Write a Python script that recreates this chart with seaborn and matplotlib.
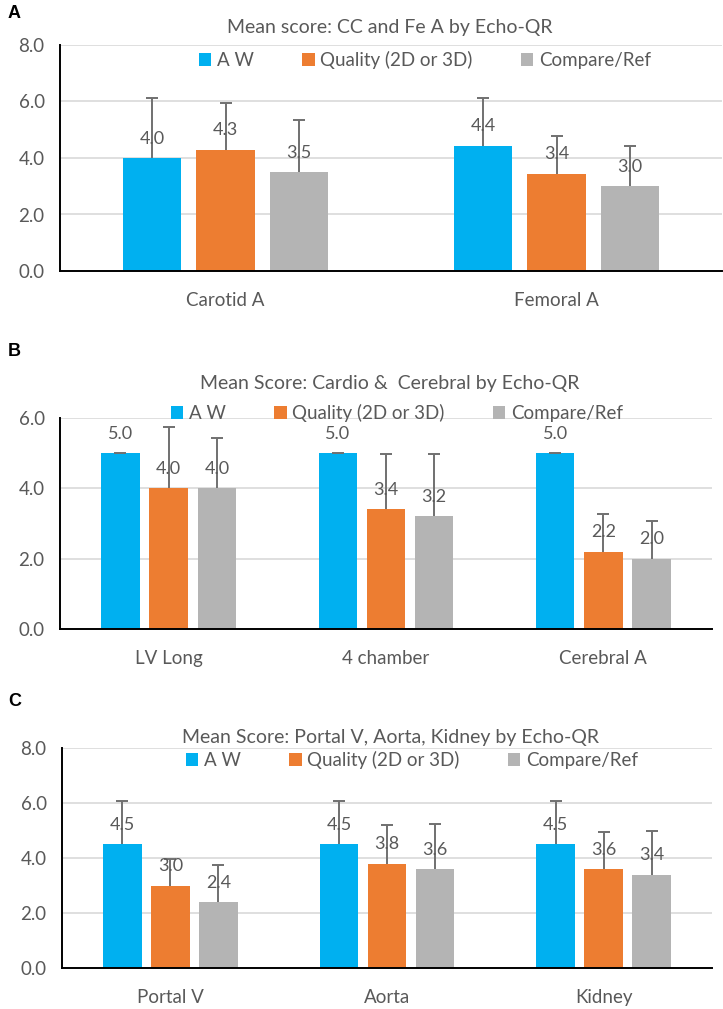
import numpy as np
import pandas as pd
import seaborn as sns
import matplotlib.pyplot as plt
from matplotlib.patches import Patch

# series names and colours
series = ["A W", "Quality (2D or 3D)", "Compare/Ref"]
colors = ["#00B0F0", "#ED7D31", "#B4B4B4"]

# panel A
cats_a = ["Carotid A", "Femoral A"]
aw_a = [4.0, 4.44]
quality_a = [4.3, 3.44]
compare_a = [3.5, 3.0]
aw_a_err = [2.12, 1.68]
quality_a_err = [1.66, 1.35]
compare_a_err = [1.85, 1.43]

# panel B
cats_b = ["LV Long", "4 chamber", "Cerebral A"]
aw_b = [5.0, 5.0, 5.0]
quality_b = [4.0, 3.4, 2.2]
compare_b = [4.0, 3.2, 2.0]
aw_b_err = [0.0, 0.0, 0.0]
quality_b_err = [1.74, 1.57, 1.06]
compare_b_err = [1.43, 1.77, 1.06]

# panel C
cats_c = ["Portal V", "Aorta", "Kidney"]
aw_c = [4.5, 4.5, 4.5]
quality_c = [3.0, 3.8, 3.6]
compare_c = [2.4, 3.6, 3.4]
aw_c_err = [1.57, 1.57, 1.57]
quality_c_err = [0.95, 1.4, 1.35]
compare_c_err = [1.33, 1.65, 1.57]

TXT = "#595959"
FONT = "Lato"

sns.set_style("white")
plt.rcParams["font.family"] = [FONT, "DejaVu Sans"]


def long_df(cats, vals):
    rows = []
    for s, v in zip(series, vals):
        for c, y in zip(cats, v):
            rows.append({"cat": c, "series": s, "value": y})
    return pd.DataFrame(rows)


def draw_panel(ax, cats, vals, errs, ymax):
    df = long_df(cats, vals)
    sns.barplot(data=df, x="cat", y="value", hue="series", hue_order=series,
                palette=colors, width=0.665, gap=0.2, legend=False,
                errorbar=None, saturation=1, linewidth=0, ax=ax)

    # error bars (upper only, single cap) and value labels
    for cont, v, e in zip(ax.containers, vals, errs):
        xs = [b.get_x() + b.get_width() / 2 for b in cont]
        eb = ax.errorbar(xs, v, yerr=[np.zeros(len(e)), e], fmt="none",
                         ecolor="#707070", elinewidth=1.4, capsize=4.5,
                         capthick=1.4, zorder=3)
        eb[1][0].set_visible(False)  # lower caps
        for x, y in zip(xs, v):
            ax.annotate(f"{y:.1f}", (x, y), xytext=(0, 14),
                        textcoords="offset points", ha="center", va="center",
                        fontsize=13, color=TXT, zorder=4)

    ax.set_xlim(-0.5, len(cats) - 0.5)
    ax.set_ylim(0, ymax)
    ticks = np.arange(0, ymax + 0.1, 2)
    ax.set_yticks(ticks)
    ax.set_yticklabels([f"{t:.1f}" for t in ticks])
    ax.set_xlabel("")
    ax.set_ylabel("")
    ax.yaxis.grid(True, color="#D9D9D9", lw=1.2)
    ax.set_axisbelow(True)
    sns.despine(ax=ax, top=True, right=True)
    for side in ["left", "bottom"]:
        ax.spines[side].set_color("black")
        ax.spines[side].set_linewidth(1.4)
    ax.tick_params(axis="both", length=0, labelsize=13.5, labelcolor=TXT)
    ax.tick_params(axis="y", pad=11)
    ax.tick_params(axis="x", pad=15)


fig = plt.figure(figsize=(7.23, 10.09), dpi=100)

W, H = 723, 1009


def axes_px(left, right, top, bottom):
    return fig.add_axes([left / W, 1 - bottom / H, (right - left) / W, (bottom - top) / H])


ax_a = axes_px(60, 722, 45, 271)
ax_b = axes_px(60, 712, 418, 629)
ax_c = axes_px(62, 712, 748, 968)

draw_panel(ax_a, cats_a, [aw_a, quality_a, compare_a],
           [aw_a_err, quality_a_err, compare_a_err], 8)
draw_panel(ax_b, cats_b, [aw_b, quality_b, compare_b],
           [aw_b_err, quality_b_err, compare_b_err], 6)
draw_panel(ax_c, cats_c, [aw_c, quality_c, compare_c],
           [aw_c_err, quality_c_err, compare_c_err], 8)

handles = [Patch(facecolor=c, edgecolor="none") for c in colors]

titles = ["Mean score: CC and Fe A by Echo-QR",
          "Mean Score: Cardio &  Cerebral by Echo-QR",
          "Mean Score: Portal V, Aorta, Kidney by Echo-QR"]
title_y = [28, 383, 738]
legend_pos = [(425, 60), (397, 413), (412, 760)]
letters = [("A", 13), ("B", 352), ("C", 702)]

for t, ty in zip(titles, title_y):
    fig.text(390 / W, 1 - ty / H, t, ha="center", va="center",
             fontsize=14, color=TXT)

for (lx, ly) in legend_pos:
    leg = fig.legend(handles, series, loc="center", ncol=3, frameon=False,
                     bbox_to_anchor=(lx / W, 1 - ly / H), fontsize=13.5,
                     handlelength=0.65, handleheight=0.65, handletextpad=0.3,
                     columnspacing=2.6)
    for txt in leg.get_texts():
        txt.set_color(TXT)

for letter, ly in letters:
    fig.text(8 / W, 1 - ly / H, letter, ha="left", va="center",
             fontsize=13, fontweight="bold", color="black",
             family=["Liberation Sans", "DejaVu Sans"])

fig.savefig("out.png", dpi=100)
